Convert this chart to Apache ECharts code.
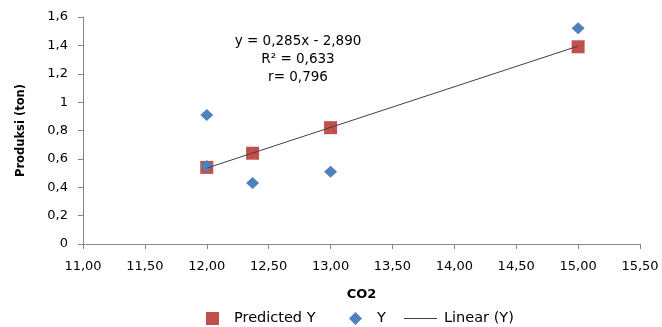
<!DOCTYPE html>
<html lang="en">
<head>
    <meta charset="UTF-8">
    <title>Produksi vs CO2</title>
    <script src="https://cdn.jsdelivr.net/npm/echarts@6/dist/echarts.min.js"></script>
</head>
<body style="margin: 0">
<div id="main" style="width: 662px;height: 327px"></div>
</body>

<script>
    // observed values
    const co2 = [12.00, 12.00, 12.37, 13.00, 15.00];
    const produksi = [0.91, 0.55, 0.43, 0.51, 1.52];
    // predicted values
    const predX = [12.00, 12.37, 13.00, 15.00];
    const predY = [0.54, 0.64, 0.82, 1.39];
    // trend line end points
    const trendX = [12.00, 15.00];
    const trendY = [0.535, 1.395];
    const equation = ['y = 0,285x - 2,890', 'R² = 0,633', 'r= 0,796'];

    const font = 'DejaVu Sans';
    const chartDom = document.getElementById('main');
    const myChart = echarts.init(chartDom);

    const zip = (a, b) => a.map((v, i) => [v, b[i]]);

    const legendText = {fontSize: 14.5, color: '#000', fontFamily: font};

    let option = {
        animation: false,
        textStyle: {fontFamily: font},
        grid: {left: 83, right: 22, top: 17, bottom: 83},
        legend: [
            {
                top: 311, left: 206, padding: 0, itemWidth: 13, itemHeight: 13,
                textStyle: Object.assign({padding: [0, 0, 0, 10]}, legendText),
                data: [{name: 'Predicted Y', icon: 'rect'}]
            },
            {
                top: 311, left: 349, padding: 0, itemWidth: 13, itemHeight: 13,
                textStyle: Object.assign({padding: [0, 0, 0, 10]}, legendText),
                data: [{name: 'Y', icon: 'diamond'}]
            },
            {
                top: 311, left: 404, padding: 0, itemWidth: 33, itemHeight: 13,
                textStyle: Object.assign({padding: [0, 0, 0, 2]}, legendText),
                data: [{name: 'Linear (Y)', icon: 'path://M0,6H33V7H0Z'}]
            }
        ],
        graphic: equation.map((t, i) => ({
            type: 'text',
            x: 298,
            y: 41 + i * 18,
            style: {
                text: t,
                align: 'center',
                verticalAlign: 'middle',
                font: '13.5px "DejaVu Sans"',
                fill: '#000'
            }
        })),
        xAxis: {
            type: 'value',
            min: 11,
            max: 15.5,
            interval: 0.5,
            name: 'CO2',
            nameLocation: 'middle',
            nameGap: 44,
            nameTextStyle: {fontWeight: 'bold', fontSize: 13, color: '#000', fontFamily: font},
            axisLine: {lineStyle: {color: '#868686'}},
            axisTick: {show: true, length: 5, lineStyle: {color: '#868686'}},
            splitLine: {show: false},
            axisLabel: {
                color: '#000', fontSize: 13, margin: 16, fontFamily: font,
                formatter: v => v.toFixed(2).replace('.', ',')
            }
        },
        yAxis: {
            type: 'value',
            min: 0,
            max: 1.6,
            interval: 0.2,
            name: 'Produksi (ton)',
            nameLocation: 'middle',
            nameGap: 56,
            nameTextStyle: {fontWeight: 'bold', fontSize: 11.5, color: '#000', fontFamily: font},
            axisLine: {show: true, lineStyle: {color: '#868686'}},
            axisTick: {show: true, length: 5, lineStyle: {color: '#868686'}},
            splitLine: {show: false},
            axisLabel: {
                color: '#000', fontSize: 13, margin: 15, fontFamily: font,
                formatter: v => String(+v.toFixed(1)).replace('.', ',')
            }
        },
        series: [
            {
                name: 'Linear (Y)',
                type: 'line',
                data: zip(trendX, trendY),
                showSymbol: false,
                symbol: 'none',
                lineStyle: {color: '#404040', width: 1},
                itemStyle: {color: '#404040'},
                z: 3
            },
            {
                name: 'Predicted Y',
                type: 'scatter',
                symbol: 'rect',
                symbolSize: 13,
                data: zip(predX, predY),
                itemStyle: {color: '#C0504D', opacity: 1},
                z: 1
            },
            {
                name: 'Y',
                type: 'scatter',
                symbol: 'diamond',
                symbolSize: [13, 12],
                data: zip(co2, produksi),
                itemStyle: {color: '#4F81BD', opacity: 1},
                z: 2
            }
        ]
    };

    option && myChart.setOption(option);
</script>

</html>
